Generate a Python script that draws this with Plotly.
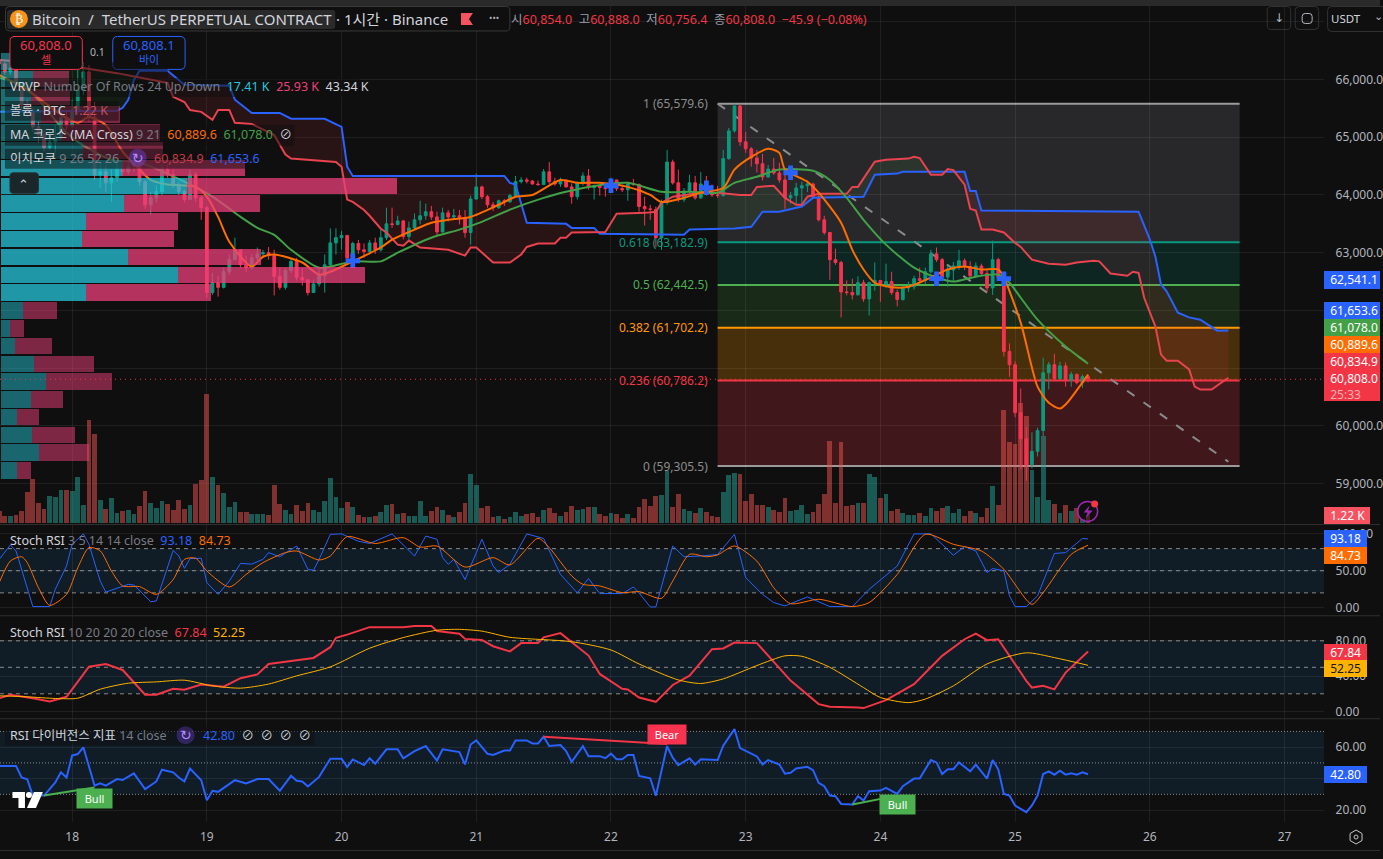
import numpy as np
import plotly.graph_objects as go

W, H = 1383, 859
BG = "#0f0f0f"
FONT = "Noto Sans, Noto Sans CJK KR, DejaVu Sans"

# Hourly bars, hours counted from the 18th at 00:00
bar_hours = list(range(-13, 182))
closes = [66270,66130,66200,65920,65560,65440,65180,65040,64820,64920,65010,65340,65210,65470,65820,66130,65350,64350,64400,64210,
64300,64440,64400,64500,64560,64230,63830,63950,64060,64440,64350,64180,64060,63920,64350,63950,63780,62310,62480,62400,
62670,62880,63050,62790,62740,62910,62980,63000,62950,62590,62400,62690,62850,62570,62530,62310,62460,62600,62790,63170,
63260,63300,62910,63160,63050,63020,63170,63050,63260,63500,63490,63550,63280,63430,63570,63640,63710,63620,63360,63690,
63620,63640,63610,63350,63930,64140,63970,63830,63780,63900,63880,63990,64230,64260,64240,64190,64180,64400,64230,64190,
64260,64140,63970,64210,64330,64130,64160,64130,64110,64260,64110,64090,64190,64180,63800,63760,63750,63260,63870,64570,
64210,63920,64070,64210,63950,64190,64040,64000,63990,64630,65110,65540,64920,64800,64640,64540,64310,64450,64380,64260,
63950,63990,64120,64160,64190,63970,63570,63350,62880,62830,62320,62310,62270,62480,62200,62480,62520,62460,62500,62310,
62190,62390,62410,62550,62520,62670,62980,62880,62580,62700,62770,62860,62760,62600,62770,62640,62390,62880,62570,61290,
61060,60230,59780,59330,59560,59920,60920,61060,60820,61040,60790,60890,60750,60854,60808]
highs = [66430,66300,66340,66230,65910,65650,65510,65270,65130,65130,65210,65560,65440,65650,66170,66300,66250,65610,64610,64520,
64440,64610,64560,64610,64700,64610,64260,64050,64160,64520,64520,64440,64230,64090,64440,64400,63990,63810,62650,62600,
62740,62970,63260,63050,62950,62980,63090,63050,63100,63050,62740,62740,62910,62910,62740,62530,62530,62710,62970,63420,
63420,63380,63210,63190,63220,63160,63220,63260,63400,63780,63780,63640,63570,63540,63680,63900,63850,63810,63710,63780,
63740,63760,63740,63740,63990,64370,64160,64000,63880,63920,63930,64020,64330,64310,64300,64260,64250,64450,64570,64300,
64300,64260,64200,64230,64390,64450,64180,64180,64160,64300,64210,64160,64230,64280,64200,63970,63830,63800,63920,64780,
64610,64440,64120,64350,64330,64400,64330,64180,64160,64780,65160,65580,65580,65090,64830,64780,64710,64520,64640,64560,
64350,64050,64210,64230,64250,64210,64050,63640,63360,63070,62860,62520,62550,62590,62530,62500,62830,62480,62810,62670,
62360,62430,62500,62600,62740,62740,63050,63090,62910,62770,62840,63050,62900,62850,62830,62810,62710,63210,62910,62620,
61430,61120,60650,59980,59890,59970,61180,61110,61250,61110,61100,60940,60910,60890,60888]
lows = [66170,66080,66080,65820,65470,65340,65090,64900,64750,64780,64730,64950,65130,65160,65390,65730,65270,64260,64120,64050,
63880,64230,64330,64350,64400,64160,63760,63660,63870,64000,64300,64120,64000,63870,63920,63880,63570,62220,62270,62240,
62380,62620,62880,62740,62670,62710,62840,62910,62880,62260,62360,62360,62650,62520,62430,62260,62310,62410,62310,62770,
62970,63050,62840,62840,62980,62910,62970,62980,63020,63220,63430,63470,63230,63230,63400,63490,63570,63570,63310,63350,
63540,63570,63490,63260,63140,63920,63930,63780,63720,63760,63810,63870,63970,64200,64200,64180,64160,64180,64190,64160,
64140,64130,63850,63920,64160,64090,63920,63990,63970,64050,64070,64050,63900,64160,63710,63470,63570,63090,63050,63830,
64180,63880,63880,64000,63920,63930,63990,63970,63950,63970,64610,65080,64850,64730,64490,64390,64250,64300,64350,64210,
63760,63850,63830,63830,64050,63950,63540,63310,62530,62790,61880,62260,62190,62260,62150,61910,62340,62150,62390,62270,
62070,62170,62320,62360,62460,62460,62640,62840,62550,62410,62500,62700,62700,62570,62570,62600,62320,62270,62530,61200,
60850,60150,59250,59050,59260,59470,59820,60630,60790,60790,60680,60680,60720,60660,60756.4]
opens = [66340] + closes[:-1]

volumes = [1800,1050,1050,1200,1800,4650,6600,3000,2100,4050,3900,4950,4950,4800,6900,2700,15600,13350,3450,2100,3750,1500,1800,1950,1350,2550,4800,3000,2250,3300,2850,1950,3450,2100,2700,5850,6450,19500,
6900,5700,4500,2400,3150,1650,1650,1350,1350,1350,1200,5700,2850,1950,1350,2700,1800,3000,1950,1650,3300,6750,3900,2250,3150,2400,1200,900,900,1050,1650,2700,2850,1350,1500,1050,1050,3300,1050,1800,2400,1950,1200,900,1650,3000,7350,5700,2250,2550,900,1050,
600,900,1650,1050,1350,1500,900,1950,2250,1500,1050,1650,2550,1950,2100,2400,2400,1350,1050,1500,1350,750,1350,750,2400,3600,2550,4050,4200,7800,2400,4350,2100,1800,1500,2250,1650,1050,900,4650,7200,7500,7350,3300,4350,2700,2700,2400,1950,1650,3750,
1800,1950,2700,1350,1650,2850,4350,12300,3000,12150,2550,2700,3000,3000,7350,6900,3750,4350,1800,2100,1500,1200,1200,1500,1050,2250,1800,2250,2550,1500,2100,1050,1800,1500,900,2250,5550,2700,17100,12150,11850,18150,16200,7950,3900,13050,3450,2850,1500,2700,1800,2250,600,1220]
assert len(closes) == len(highs) == len(lows) == len(volumes) == len(bar_hours)

# Visible-range volume profile, 24 rows top to bottom
vrvp_prices = [66316,66008,65700,65391,65083,64775,64467,64158,63850,63542,63234,62925,62617,62309,62001,61692,61384,61076,60768,60460,60151,59843,59535,59227]
vrvp_up = [130,420,390,520,780,1070,1570,2420,1600,1110,1050,1650,2300,1110,290,120,180,430,590,390,210,400,490,210]
vrvp_down = [130,470,510,1030,1290,1040,1610,2740,1780,1200,1210,1740,2440,1630,440,180,480,780,850,420,290,560,660,180]
vrvp_in_value_area = [0,0,0,0,0,0,1,1,1,1,1,1,1,1,0,0,0,0,0,0,0,0,0,0]

# Ichimoku leading spans
span_a_hours = [-13,8,9,10,11,12,17,19,20,28,29,32,37,39,45,48,49,50,77,78,79,81,88,89,93,94,109,110,118,121,123,126,130,132,141,143,147,148,159,160,161,162,190,192,193,194,195,197,199,201,204,206]
span_a = [65440,65460,65510,65650,65990,66150,66150,65990,65910,65890,65650,65420,65420,65320,65320,65180,64490,64330,64330,64210,64180,63520,63500,63430,63430,63330,63310,63400,63420,63450,63710,63710,63800,63950,63970,64350,64370,64400,64400,64070,64070,63730,63710,63230,62930,62450,62330,61960,61880,61840,61650,61653.6]
span_b_hours = [-13,-8,-2,2,8,12,17,18,20,21,23,25,26,28,29,32,36,38,39,47,48,49,50,52,53,55,56,58,59,60,62,67,70,71,72,75,78,80,81,83,86,87,88,89,95,97,102,104,105,107,112,115,119,121,122,125,127,129,130,131,133,138,139,140,143,145,149,150,151,153,155,156,157,159,160,161,162,164,166,168,169,171,174,177,179,182,183,185,188,189,190,191,192,193,194,195,197,199,200,201,203,206]
span_b = [66340,66300,66300,66200,66110,66030,65940,65700,65610,65470,65440,65300,65470,65470,65250,65230,65040,64700,64630,64570,64490,63920,63880,63740,63640,63415,63350,63140,63120,63210,63090,63050,62950,63090,63090,62830,62830,62970,63100,63160,63160,63260,63260,63350,63360,63675,63690,63710,63865,63970,64040,64040,64000,64000,64140,64160,63950,63830,63830,63970,64020,64020,64140,64140,64575,64610,64630,64660,64640,64350,64350,64450,64430,64180,63760,63730,63400,63400,63350,63170,63100,62880,62810,62790,62830,62860,62850,62640,62600,62670,62650,62220,61980,61720,61235,61130,61130,60980,60680,60630,60630,60834.9]

# Fast and slow moving averages
ma_fast_hours = [-13,-8,-2,1,3,6,9,12,14,17,22,24,26,28,32,34,36,41,44,46,50,55,57,61,64,67,71,76,79,82,87,90,94,99,103,105,109,112,116,118,121,124,126,127,131,133,137,139,141,143,146,149,153,156,159,162,165,166,169,172,174,176,177,181]
ma_fast = [66080,65820,65390,65250,65350,65210,64750,64440,64260,64180,64140,63970,63620,63190,62760,62930,62970,62830,62620,62670,62850,63090,63225,63400,63520,63570,63620,63830,63970,64000,64260,64210,64210,64140,64000,63880,63950,64040,64120,64440,64660,64800,64730,64440,64230,64040,63520,63050,62710,62480,62400,62410,62570,62710,62760,62710,62710,62570,61790,60680,60400,60300,60370,60889.6]
ma_slow_hours = [-13,-9,-6,-2,1,7,12,20,25,30,33,36,39,44,46,50,55,58,64,69,73,78,84,88,92,99,105,110,115,116,118,122,126,132,135,138,141,145,150,154,157,161,165,167,169,172,177,181]
ma_slow = [66030,65906,65650,65180,64920,64610,64560,64230,63970,63620,63430,63310,63050,62740,62760,62850,62850,63000,63260,63400,63535,63745,63950,64055,64140,64210,64055,64055,64040,64090,64210,64315,64440,64420,64260,63950,63570,63140,62740,62570,62500,62585,62620,62480,62220,61840,61375,61078]
cross_hours = [50,96,113,128,154,166]
cross_prices = [62860,64160,64125,64385,62550,62550]

# Fibonacci retracement and the dashed projection through it
fib_start, fib_end = 115, 208
fib_ratios = ["1","0.618","0.5","0.382","0.236","0"]
fib_levels = [65579.6,63182.9,62442.5,61702.2,60786.2,59305.5]
fib_lines = ["#9b9b9b","#089981","#4caf50","#ff9800","#f23645","#9b9b9b"]
fib_texts = ["#8d8d8d","#089981","#4caf50","#ff9800","#f23645","#8d8d8d"]
fib_fills = ["rgba(150,150,160,0.19)","rgba(8,153,129,0.17)","rgba(76,175,80,0.17)","rgba(255,152,0,0.24)","rgba(242,54,69,0.22)"]
trend_hours = [115,206]
trend_prices = [65579.6,59380]
last_price = 60808.0

# Fast Stoch RSI
stoch_fast_k_hours = [-13,-11,-10,-8,-7,-4,-3,-1,0,2,3,5,6,10,11,14,15,18,19,20,21,23,24,26,28,30,32,34,35,37,40,42,43,44,46,48,51,53,55,57,61,63,65,66,67,68,70,73,75,76,78,81,84,87,90,92,94,98,100,101,103,104,107,109,112,115,118,120,123,125,127,131,135,139,142,147,150,153,155,157,159,161,163,164,166,167,168,170,172,175,177,180,181]
stoch_fast_k = [65.5,85,76.8,27,1.4,1.4,25,56.5,85.9,100,85.9,36,21,31.6,30.7,8,9,77.7,70,53.3,66.5,67,34,18,36,60,59,65.5,74.6,69,83.6,52,50.6,65.5,99.4,100,90,87,94,100,70,97,92.7,67.8,58.7,65.5,38,92.7,56.5,47.5,58.7,100,93.8,45,20,39.5,19,19,28,20,0.9,0.9,83.6,69,70,72,99.4,40.7,18,6.8,2.3,14.5,1.4,1.4,24.8,56.5,100,100,85.9,71,82.8,76.8,47.5,53,50,16,1.4,1.4,16,73.4,74.6,93.8,93.18]
stoch_fast_d_hours = [-13,-11,-9,-8,-6,-4,-1,1,3,5,7,9,12,15,18,20,22,24,28,31,34,38,40,44,46,49,54,59,62,65,70,75,78,83,85,89,91,94,98,101,105,107,110,113,115,118,122,125,128,133,139,142,147,152,157,162,166,171,173,178,181]
stoch_fast_d = [33.9,63.3,69,61,27,3,18,54,81.4,77,49.7,29.4,28.5,18,38,65.5,67,49.7,28,45,61,74.6,76.8,64.6,70,96.3,87,94.9,82,83.6,55,67.8,57.9,94,81.4,43,31.6,29.4,20.3,21.7,12.6,36,72.3,69,71.5,83.6,63,27,5.4,11.3,1.4,6.8,45,99.4,85.9,76.8,52,4.5,20.3,72.3,84.73]

# Slow Stoch RSI
stoch_slow_k_hours = [-13,-11,-7,-4,-1,3,6,9,13,15,18,20,23,27,30,33,35,40,43,46,47,49,53,59,61,64,65,69,70,73,75,78,80,83,84,87,90,92,94,98,99,101,104,107,110,114,116,118,122,124,128,133,135,140,141,145,150,154,155,159,161,163,165,170,171,173,175,177,181]
stoch_slow_k = [15,18.9,15,11.3,16.6,50.7,53.8,47,19,19,25.6,24.5,30.5,28,37.7,42,53.8,57.6,60.6,72.8,83.4,87,95.5,95.5,96.8,96.8,91,88,82.2,81,73.9,68,77.4,77.4,84,88.7,72.9,63.3,42.5,25.6,24.9,15.8,10.9,30,40.5,70.5,71.3,78,77.4,63,35,8.3,5.3,4.5,3.8,12.8,31,56.6,63,81.8,88.2,80.7,81.8,34.7,27,29,25,44,67.84]
stoch_slow_d_hours = [-13,-8,-3,1,5,10,15,20,25,30,35,40,46,53,59,65,69,73,78,89,96,101,108,112,116,122,127,130,135,141,144,149,152,157,163,170,175,181]
stoch_slow_d = [17.7,16.6,14.7,15,25.2,32,33.5,35.4,29,26.4,31,40.3,50.5,71.6,83.7,92,93,91,84,79,69.6,53.8,35.7,31.7,36.9,52,63,62.5,50,27,15.8,10,14,29,53.8,66.4,61,52.25]

# RSI with divergence segments
rsi_hours = [-13,-10,-9,-8,-7,-5,-3,-2,-1,0,1,2,4,5,6,8,9,11,13,15,16,18,19,20,21,23,24,25,26,29,31,33,35,37,39,40,41,42,44,46,48,49,50,52,53,54,56,58,59,61,63,65,66,69,70,71,72,74,75,77,78,79,81,82,83,84,85,87,88,89,91,92,94,95,96,97,98,99,100,101,103,104,106,107,108,110,111,112,115,116,118,119,122,123,124,126,127,128,129,131,132,133,134,135,136,137,139,140,141,142,144,145,147,148,150,151,153,154,155,156,157,158,160,161,163,164,165,166,167,168,169,170,171,172,173,174,175,176,177,178,179,180,181]
rsi = [48.1,48.1,40.7,39.6,29.2,29.2,37.6,44,40.7,54.6,55.6,59.9,35.5,37,35.5,39.7,39.1,43.3,33.3,38.2,45.7,44,40.7,38.2,46.4,39,26.3,32.3,31.6,39,37,39.7,39.7,32.3,41.8,38.6,38.2,35,41.1,52.7,52.7,47.4,52.2,48.6,52.9,49.5,58.6,58.6,52.9,57.5,60.7,51.5,58.6,56.9,49,61.7,64.3,55.8,55,57.9,57.9,64.3,64.3,62.4,62.4,66.6,60.7,61.4,57.5,50.7,60.7,54.3,54.3,53,55.9,52.3,52.3,55,55,41.7,40.2,29.2,60.7,53.3,48.6,52.9,49,52.3,51.8,60.9,71.5,59.4,54.1,49,51.8,49,43.1,43.7,46.5,47.5,45.4,37.3,35.2,29.2,28.8,23.9,23.5,28.8,26.1,32,32.4,34.1,30.3,35.2,40,40,51.8,50.3,42.9,46,46,50.3,44.6,48.9,40,51.8,45.9,30.3,29.2,22.9,20.8,18.7,22.9,29.2,42.9,44.6,42.5,45,42.5,43.4,42.5,44,42.8]
bull_segments = [([-5,4],[29.2,34.4],4,27.6),([139,147],[23.5,29.2],147,23.4)]
bear_segment = ([84,106],[66.6,62],106,67.8)

day_hours = [0,24,48,72,96,120,144,168,192,216]
day_labels = ["18","19","20","21","22","23","24","25","26","27"]
price_ticks = [59000,60000,61000,62000,63000,64000,65000,66000,67000]
price_tick_labels = ["59,000.0","60,000.0","","","63,000.0","64,000.0","65,000.0","66,000.0",""]

RED, TEAL, BLUE = "#f7334f", "#0a9a7e", "#2962ff"
GRID = "rgba(255,255,255,0.07)"
RIGHT = 1327 / W


def py(y):
    return 1 - y / H


def hide(d):
    return dict(visible=False, **d)


fig = go.Figure()
X_RANGE = [(0 - 72.3) / 5.625, (1327 - 72.3) / 5.625]
PRICE_RANGE = [58312, 67273]

# Cloud fill between the spans, drawn on the lowest price layer
grid = np.arange(-13, 206.25, 0.25)
a_i = np.interp(grid, span_a_hours, span_a)
b_i = np.interp(grid, span_b_hours, span_b)
top = np.maximum(a_i, b_i)
for base, colour in ((a_i, "rgba(76,175,80,0.09)"), (b_i, "rgba(242,54,69,0.11)")):
    fig.add_trace(go.Scatter(x=grid, y=base, mode="lines", line=dict(width=0), yaxis="y", hoverinfo="skip"))
    fig.add_trace(go.Scatter(x=grid, y=top, mode="lines", line=dict(width=0), fill="tonexty", fillcolor=colour, yaxis="y", hoverinfo="skip"))
fig.add_trace(go.Scatter(x=trend_hours, y=trend_prices, mode="lines", yaxis="y",
                         line=dict(color="#8a8a8a", width=2, dash="9px,11px"), hoverinfo="skip"))

# Volume columns
vol_colors = ["rgba(239,83,80,0.5)" if c < o else "rgba(38,166,154,0.5)" for c, o in zip(closes, opens)]
fig.add_trace(go.Bar(x=bar_hours, y=volumes, width=0.85, marker=dict(color=vol_colors, line=dict(width=0)), yaxis="y2", hoverinfo="skip"))

# Price candles and overlays
fig.add_trace(go.Candlestick(x=bar_hours, open=opens, high=highs, low=lows, close=closes, yaxis="y3", hoverinfo="skip",
                             increasing=dict(line=dict(color=TEAL, width=1), fillcolor=TEAL),
                             decreasing=dict(line=dict(color=RED, width=1), fillcolor=RED)))
for xs, ys, c, shape in ((span_a_hours, span_a, BLUE, "linear"), (span_b_hours, span_b, "#e8434f", "linear"),
                         (ma_slow_hours, ma_slow, "#43a047", "spline"), (ma_fast_hours, ma_fast, "#ff6d00", "spline")):
    fig.add_trace(go.Scatter(x=xs, y=ys, mode="lines", line=dict(color=c, width=2, shape=shape, smoothing=0.7), yaxis="y3", hoverinfo="skip"))
fig.add_trace(go.Scatter(x=cross_hours, y=cross_prices, mode="markers", yaxis="y3", hoverinfo="skip",
                         marker=dict(symbol="cross", size=12, color=BLUE, line=dict(width=0))))

# Volume profile rows over the candles
up_cols = ["rgba(38,198,218,0.75)" if v else "rgba(38,198,218,0.48)" for v in vrvp_in_value_area]
dn_cols = ["rgba(236,64,122,0.75)" if v else "rgba(236,64,122,0.5)" for v in vrvp_in_value_area]
fig.add_trace(go.Bar(y=vrvp_prices, x=vrvp_up, orientation="h", width=287, marker=dict(color=up_cols, line=dict(width=0)), xaxis="x2", yaxis="y3", hoverinfo="skip"))
fig.add_trace(go.Bar(y=vrvp_prices, x=vrvp_down, orientation="h", width=287, marker=dict(color=dn_cols, line=dict(width=0)), xaxis="x2", yaxis="y3", hoverinfo="skip"))

# Oscillator panes
for xs, ys, c, w, ya, shape in ((stoch_fast_k_hours, stoch_fast_k, BLUE, 1, "y4", "linear"), (stoch_fast_d_hours, stoch_fast_d, "#ff6d00", 1, "y4", "spline"),
                                (stoch_slow_k_hours, stoch_slow_k, "#f23645", 2, "y5", "linear"), (stoch_slow_d_hours, stoch_slow_d, "#ffb300", 1, "y5", "spline"),
                                (rsi_hours, rsi, BLUE, 2, "y6", "linear")):
    fig.add_trace(go.Scatter(x=xs, y=ys, mode="lines", line=dict(color=c, width=w, shape=shape, smoothing=0.7), yaxis=ya, hoverinfo="skip"))
for xs, ys, _, _ in bull_segments:
    fig.add_trace(go.Scatter(x=xs, y=ys, mode="lines", line=dict(color="#4caf50", width=2), yaxis="y6", hoverinfo="skip"))
fig.add_trace(go.Scatter(x=bear_segment[0], y=bear_segment[1], mode="lines", line=dict(color="#f23645", width=2), yaxis="y6", hoverinfo="skip"))

shapes, notes = [], []


def paper_path(p):
    # Rewrites a small pixel-space path into paper coordinates
    out, toks = [], p.replace(",", " ").split()
    is_x = True
    cmd = ""
    for tok in toks:
        if tok[0].isalpha():
            cmd = tok[0]
            tok = tok[1:]
            out.append(cmd)
            is_x = cmd != "V"
            if not tok:
                continue
        v = float(tok)
        out.append(f"{v / W:.5f}" if is_x else f"{py(v):.5f}")
        if cmd not in "HV":
            is_x = not is_x
    return " ".join(out)


def text(x, y, t, size=12, color="#b2b5be", anchor="left", bg=None, width=None, height=None, align=None, family=FONT):
    notes.append(dict(xref="paper", yref="paper", x=x / W, y=py(y), text=t, showarrow=False, xanchor=anchor, yanchor="middle",
                      font=dict(size=size, color=color, family=family), bgcolor=bg, width=width, height=height,
                      align=align or "left", borderpad=0, borderwidth=0))


def box(x0, y0, x1, y1, fill=None, line=None, lw=1, r=0, layer="above"):
    if r:
        p = (f"M{x0+r},{y0} H{x1-r} Q{x1},{y0} {x1},{y0+r} V{y1-r} Q{x1},{y1} {x1-r},{y1} "
             f"H{x0+r} Q{x0},{y1} {x0},{y1-r} V{y0+r} Q{x0},{y0} {x0+r},{y0} Z")
        shapes.append(dict(type="path", xref="paper", yref="paper", path=paper_path(p), fillcolor=fill,
                           line=dict(color=line or "rgba(0,0,0,0)", width=lw), layer=layer))
    else:
        shapes.append(dict(type="rect", xref="paper", yref="paper", x0=x0 / W, x1=x1 / W, y0=py(y0), y1=py(y1), fillcolor=fill,
                           line=dict(color=line or "rgba(0,0,0,0)", width=lw if line else 0), layer=layer))


# Fibonacci bands and levels
for i, lvl in enumerate(fib_levels):
    if i < len(fib_fills):
        shapes.append(dict(type="rect", xref="x", yref="y", x0=fib_start, x1=fib_end, y0=lvl, y1=fib_levels[i + 1],
                           fillcolor=fib_fills[i], line=dict(width=0), layer="below"))
    shapes.append(dict(type="line", xref="x", yref="y", x0=fib_start, x1=fib_end, y0=lvl, y1=lvl,
                       line=dict(color=fib_lines[i], width=2), layer="below"))
    notes.append(dict(xref="x", yref="y", x=113.7, y=lvl, xanchor="right", yanchor="middle", showarrow=False,
                      text=f"{fib_ratios[i]} ({lvl:,.1f})", font=dict(size=12, color=fib_texts[i], family=FONT)))

# Last price guide
shapes.append(dict(type="line", xref="paper", yref="y3", x0=0, x1=RIGHT, y0=last_price, y1=last_price,
                   line=dict(color="#f23645", width=1, dash="1px,4px"), layer="above"))

# Oscillator bands
for ya, lo, hi, levels, dash in (("y4", 20, 80, [20, 50, 80], "4px,4px"), ("y5", 20, 80, [20, 50, 80], "4px,4px"), ("y6", 30, 70, [30, 50, 70], "1px,2px")):
    shapes.append(dict(type="rect", xref="paper", yref=ya, x0=0, x1=RIGHT, y0=lo, y1=hi, fillcolor="rgba(33,150,243,0.1)", line=dict(width=0), layer="below"))
    for lv in levels:
        shapes.append(dict(type="line", xref="paper", yref=ya, x0=0, x1=RIGHT, y0=lv, y1=lv,
                           line=dict(color="#8a8a8a", width=1, dash=dash), layer="below"))

# Pane separators and outer frame
for y in (524.5, 616, 719, 851):
    box(0, y, W, y + 1, fill="#2f2f2f")
box(0, 0, W, 6, fill="#2a2a2a")
box(0, 852, W, 859, fill="#0f0f0f")

# Symbol header
box(5.5, 6.5, 511, 31, fill=BG, line="#3a3a3a", r=4)
box(7, 10, 336, 29, fill="#2a2a2a", r=3)
shapes.append(dict(type="circle", xref="paper", yref="paper", x0=10 / W, x1=28 / W, y0=py(10), y1=py(28), fillcolor="#f7931a", line=dict(width=0)))
text(19, 19, "₿", size=12, color="#ffffff", anchor="center", family="DejaVu Sans")
text(32, 19.5, "Bitcoin  /  TetherUS PERPETUAL CONTRACT", size=15, color="#d1d4dc")
text(337, 19.5, "· 1시간 · Binance", size=15, color="#d1d4dc")
shapes.append(dict(type="path", xref="paper", yref="paper", fillcolor="#f7525f", line=dict(width=0),
                   path=paper_path("M462,13 H474 L470,19 L474,25 H462 Z")))
text(495, 18, "•••", size=9, color="#b2b5be", anchor="center")
R = "#f23645"
G = "#9a9ea8"
text(512, 19.5, f'<span style="color:{G}">시</span><span style="color:{R}">60,854.0</span>&nbsp; '
                f'<span style="color:{G}">고</span><span style="color:{R}">60,888.0</span>&nbsp; '
                f'<span style="color:{G}">저</span><span style="color:{R}">60,756.4</span>&nbsp; '
                f'<span style="color:{G}">종</span><span style="color:{R}">60,808.0</span>&nbsp; '
                f'<span style="color:{R}">−45.9 (−0.08%)</span>', size=12.5)

# Sell and buy boxes
box(10, 36.5, 82.5, 69.5, fill=BG, line="#f7334f", r=5)
box(113, 36.5, 185.5, 69.5, fill=BG, line="#2962ff", r=5)
text(46.5, 45.5, "60,808.0", size=13, color="#f7334f", anchor="center")
text(46.5, 60, "셀", size=11, color="#f7334f", anchor="center")
text(97.5, 52.5, "0.1", size=10.5, color="#b2b5be", anchor="center")
text(149.5, 45.5, "60,808.1", size=13, color="#2962ff", anchor="center")
text(149.5, 60, "바이", size=11, color="#2962ff", anchor="center")

# Study legends, each row on its own translucent plate
LEG = "rgba(15,15,15,0.52)"
D = "#d1d4dc"
M = "#787b86"


def span(c, t):
    return f'<span style="color:{c}">{t}</span>'


box(83, 62, 168, 78, fill=LEG)
box(5, 78, 360, 97, fill=LEG)
box(5, 101, 119, 121, fill=LEG)
box(5, 125, 295, 146, fill=LEG)
box(5, 149, 265, 169, fill=LEG)
text(10, 86.5, span(D, "VRVP") + " " + span(M, "Number Of Rows 24 Up/Down") + "  " + span("#26c6da", "17.41 K") + "  " + span("#ec407a", "25.93 K") + "  " + span(D, "43.34 K"), size=12.5)
text(10, 111, span(D, "볼륨 · BTC") + "  " + span("#c4505c", "1.22 K"), size=12.5)
text(10, 135, span(D, "MA 크로스 (MA Cross)") + " " + span(M, "9 21") + "  " + span("#ff6d00", "60,889.6") + "  " + span("#43a047", "61,078.0") + "  " + span(D, "⊘"), size=12.5)
text(10, 159, span(D, "이치모쿠") + " " + span(M, "9 26 52 26"), size=12.5)
text(154, 159, span("#c43a48", "60,834.9") + "  " + span("#2962ff", "61,653.6"), size=12.5)
shapes.append(dict(type="circle", xref="paper", yref="paper", x0=129 / W, x1=147 / W, y0=py(149), y1=py(167), fillcolor="rgba(124,77,255,0.35)", line=dict(width=0)))
text(138, 158, "↻", size=14, color="#b388ff", anchor="center", family="DejaVu Sans")
box(10, 173, 38.5, 193.5, fill="#1a2629", line="#2a3236", r=3)
text(24, 185, "⌃", size=13, color="#d1d4dc", anchor="center", family="DejaVu Sans")

text(10, 541.5, span(D, "Stoch RSI") + " " + span(M, "3 5 14 14 close") + "  " + span(BLUE, "93.18") + "  " + span("#ff6d00", "84.73"), size=12.5)
text(10, 633.5, span(D, "Stoch RSI") + " " + span(M, "10 20 20 20 close") + "  " + span("#f23645", "67.84") + "  " + span("#ffb300", "52.25"), size=12.5)
box(5, 727, 315, 746, fill=LEG)
text(10, 736.5, span(D, "RSI 다이버전스 지표") + " " + span(M, "14 close"), size=12.5)
shapes.append(dict(type="circle", xref="paper", yref="paper", x0=177 / W, x1=195 / W, y0=py(727), y1=py(745), fillcolor="rgba(124,77,255,0.3)", line=dict(width=0)))
text(186, 736, "↻", size=14, color="#b388ff", anchor="center", family="DejaVu Sans")
text(203, 736.5, span(BLUE, "42.80") + "  " + span(D, "⊘  ⊘  ⊘  ⊘"), size=12.5)

# Right-hand price tags
TAGS = [(280, "62,541.1", BLUE), (311.5, "61,653.6", BLUE), (328.5, "61,078.0", "#43a047"),
        (345.5, "60,889.6", "#ff6d00"), (362.5, "60,834.9", "#f23645"), (379.5, "60,808.0", "#f23645")]
for y, t, bg in TAGS:
    text(1327, y, "&nbsp;&nbsp;" + t, size=12, color="#fff", bg=bg, width=56, height=17.5)
text(1327, 394, "&nbsp;&nbsp;25:33", size=12, color="#f7b0b5", bg="#f23645", width=56, height=14)
text(1327, 516.5, "&nbsp;&nbsp;1.22 K", size=12, color="#fff", bg="#f7525f", width=46, height=17)
for y, t, bg, fg in ((539, "93.18", BLUE, "#fff"), (556.5, "84.73", "#ff6d00", "#fff"), (653, "67.84", "#f23645", "#fff"),
                     (669.5, "52.25", "#ffb300", "#131722"), (775, "42.80", BLUE, "#fff")):
    text(1327, y, "&nbsp;&nbsp;" + t, size=12, color=fg, bg=bg, width=43, height=17)

# Chart toolbar
box(1270, 6.5, 1293.5, 29.5, line="#333333", r=4)
text(1282, 18.5, "↓", size=12, color="#b2b5be", anchor="center", family="DejaVu Sans")
box(1298, 6.5, 1321.5, 29.5, line="#333333", r=4)
box(1305, 13.5, 1315, 23.5, line="#b2b5be", r=3)
box(1330.5, 6.5, 1390, 31.5, fill=BG, line="#333333", r=4)
text(1334, 19, "USDT", size=11.5, color="#d1d4dc")
text(1377, 17, "⌄", size=11, color="#b2b5be", family="DejaVu Sans")

# Divergence tags
for xs, ys, lx, ly in bull_segments:
    notes.append(dict(xref="x", yref="y6", x=lx, y=ly, text="Bull", showarrow=False, font=dict(size=11, color="#fff", family=FONT),
                      bgcolor="#4caf50", width=33, height=17))
notes.append(dict(xref="x", yref="y6", x=bear_segment[2], y=bear_segment[3], text="Bear", showarrow=False, font=dict(size=11, color="#fff", family=FONT),
                  bgcolor="#f7334f", width=36, height=17))

# Attribution mark
for p in ("M12.5,793 H25 V809 H18.5 V799 H12.5 Z", "M34,793 H43 L36,809 H27 Z"):
    shapes.append(dict(type="path", xref="paper", yref="paper", fillcolor="#ffffff", line=dict(width=0), path=paper_path(p)))
shapes.append(dict(type="circle", xref="paper", yref="paper", x0=26 / W, x1=32 / W, y0=py(793), y1=py(799), fillcolor="#ffffff", line=dict(width=0)))

# Alert badge and axis settings glyph
shapes.append(dict(type="circle", xref="paper", yref="paper", x0=1080 / W, x1=1100 / W, y0=py(502), y1=py(522), fillcolor="rgba(15,15,15,0.5)", line=dict(color="#9c27b0", width=1.5)))
shapes.append(dict(type="path", xref="paper", yref="paper", fillcolor="#9c27b0", line=dict(width=0), path=paper_path("M1092,506 L1086,513 H1090 L1088,519 L1095,511 H1090.5 Z")))
shapes.append(dict(type="circle", xref="paper", yref="paper", x0=1093.5 / W, x1=1100.5 / W, y0=py(501), y1=py(508), fillcolor="#f23645", line=dict(width=0)))
shapes.append(dict(type="path", xref="paper", yref="paper", line=dict(color="#c8c8c8", width=1), path=paper_path("M1359,831 L1365,834.5 V841.5 L1359,845 L1353,841.5 V834.5 Z")))
shapes.append(dict(type="circle", xref="paper", yref="paper", x0=1357 / W, x1=1361 / W, y0=py(836), y1=py(840), line=dict(color="#c8c8c8", width=1)))

axis_common = dict(showgrid=True, gridcolor=GRID, gridwidth=1, zeroline=False, showline=False, side="right", anchor="x",
                   ticks="outside", ticklen=8, tickcolor="rgba(0,0,0,0)", tickfont=dict(size=12, color="#b2b5be", family=FONT))

fig.update_layout(
    width=W, height=H, margin=dict(l=0, r=0, t=0, b=0), autosize=False,
    paper_bgcolor=BG, plot_bgcolor=BG, showlegend=False, barmode="stack", hovermode=False, dragmode=False,
    xaxis=dict(domain=[0, RIGHT], range=X_RANGE, anchor="y6", showgrid=True, gridcolor=GRID, zeroline=False, showline=False,
               tickvals=day_hours, ticktext=day_labels, ticks="outside", ticklen=4, tickcolor="rgba(0,0,0,0)",
               tickfont=dict(size=12, color="#b2b5be", family=FONT), rangeslider=dict(visible=False)),
    xaxis2=dict(domain=[0, RIGHT], range=[-13, 17238], overlaying="x", anchor="y3", visible=False, rangeslider=dict(visible=False)),
    yaxis=dict(domain=[py(524), py(6)], range=PRICE_RANGE, tickvals=price_ticks, ticktext=price_tick_labels, **axis_common),
    yaxis2=hide(dict(domain=[py(524), py(6)], range=[0, 77700], overlaying="y", anchor="x", side="right")),
    yaxis3=hide(dict(domain=[py(524), py(6)], range=PRICE_RANGE, overlaying="y", anchor="x", side="right")),
    yaxis4=dict(domain=[py(616), py(525)], range=[-10.4, 112.9], tickvals=[0, 50, 100], ticktext=["0.00", "50.00", "100.00"], **axis_common),
    yaxis5=dict(domain=[py(719), py(617)], range=[-7.6, 107.8], tickvals=[0, 40, 80], ticktext=["0.00", "40.00", "80.00"], **axis_common),
    yaxis6=dict(domain=[py(823), py(720)], range=[12.4, 77.8], tickvals=[20, 40, 60], ticktext=["20.00", "", "60.00"], **axis_common),
    shapes=shapes, annotations=notes,
)

fig.write_html("out.html", config=dict(displayModeBar=False))
